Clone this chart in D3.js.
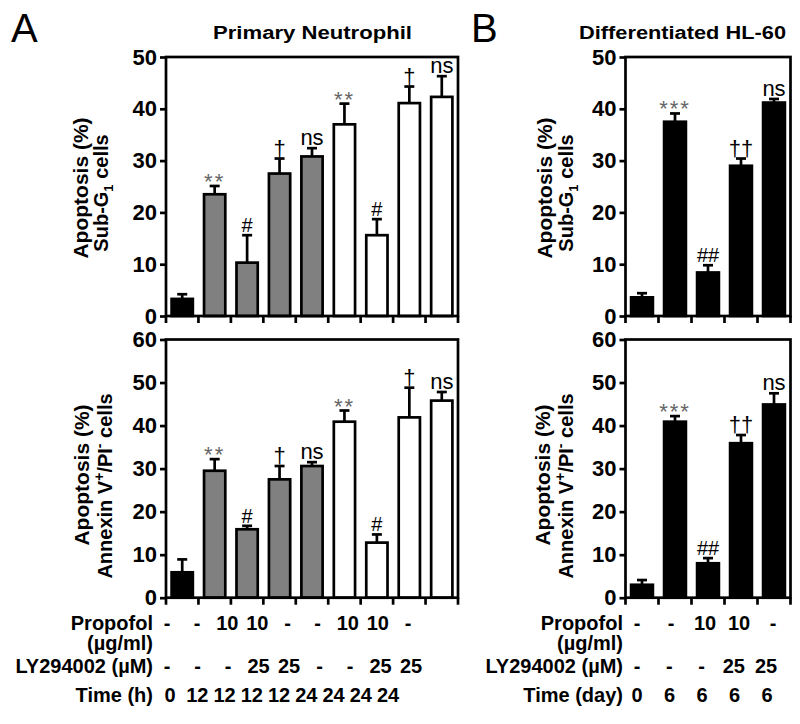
<!DOCTYPE html>
<html>
<head>
<meta charset="utf-8">
<script src="https://cdn.jsdelivr.net/npm/d3@7"></script>
<style>
  html, body { margin: 0; padding: 0; background: #fff; }
  svg { display: block; }
  text { font-family: "Liberation Sans", Arial, sans-serif; }
</style>
</head>
<body>
<svg id="chart" width="800" height="724"></svg>
<script>
// ---------------- DATA ----------------
// Panel A: Primary Neutrophil (9 conditions)
const groupA = ["ctrl", "h12", "h12", "h12", "h12", "h24", "h24", "h24", "h24"];
const subG1A = [3.3, 23.5, 10.3, 27.5, 30.8, 37.0, 15.6, 41.1, 42.3];
const subG1ErrA = [0.9, 1.6, 5.3, 2.9, 1.6, 4.0, 3.1, 3.2, 4.0];
const annexA = [5.9, 29.5, 15.9, 27.5, 30.6, 40.9, 12.8, 41.9, 45.8];
const annexErrA = [3.0, 2.7, 0.8, 3.1, 0.9, 2.6, 1.9, 6.9, 2.0];
const sigA = ["", "**", "#", "†", "ns", "**", "#", "†", "ns"];
const propofolA = ["-", "-", "10", "10", "-", "-", "10", "10", "-"];
const lyA = ["-", "-", "-", "25", "25", "-", "-", "25", "25"];
const timeA = ["0", "12", "12", "12", "12", "24", "24", "24", "24"];

// Panel B: Differentiated HL-60 (5 conditions)
const groupB = ["ctrl", "ctrl", "ctrl", "ctrl", "ctrl"];
const subG1B = [3.6, 37.5, 8.4, 29.0, 41.2];
const subG1ErrB = [0.8, 1.6, 1.4, 1.4, 0.7];
const annexB = [3.0, 40.9, 8.0, 35.9, 44.9];
const annexErrB = [1.1, 1.3, 1.2, 1.9, 2.6];
const sigB = ["", "***", "##", "††", "ns"];
const propofolB = ["-", "-", "10", "10", "-"];
const lyB = ["-", "-", "-", "25", "25"];
const timeB = ["0", "6", "6", "6", "6"];

const ticksTop = [0, 10, 20, 30, 40, 50];
const ticksBottom = [0, 10, 20, 30, 40, 50, 60];

const fillColor = { ctrl: "#000000", h12: "#808080", h24: "#ffffff" };

// ---------------- DRAW ----------------
const svg = d3.select("#chart");
const FONT = '"Liberation Sans", Arial, sans-serif';
const SW = 2.7;

function drawPanel(opt) {
  const n = opt.values.length;
  const x = d3.scaleBand().domain(d3.range(n)).range([opt.x0, opt.x1]).padding(0);
  const y = d3.scaleLinear().domain([0, opt.max]).range([opt.yBottom, opt.yTop]);
  const g = svg.append("g");
  const inset = opt.inset;

  // bars
  g.selectAll("rect.bar").data(opt.values).join("rect")
    .attr("class", "bar")
    .attr("x", (d, i) => x(i) + inset)
    .attr("width", x.bandwidth() - 2 * inset)
    .attr("y", d => y(d))
    .attr("height", d => y(0) - y(d))
    .attr("fill", (d, i) => fillColor[opt.groups[i]])
    .attr("stroke", "#000").attr("stroke-width", SW);

  // error bars (upper only)
  const cx = i => x(i) + x.bandwidth() / 2;
  g.selectAll("line.err").data(opt.values).join("line")
    .attr("x1", (d, i) => cx(i)).attr("x2", (d, i) => cx(i))
    .attr("y1", d => y(d)).attr("y2", (d, i) => y(d + opt.errs[i]))
    .attr("stroke", "#000").attr("stroke-width", SW);
  g.selectAll("line.cap").data(opt.values).join("line")
    .attr("x1", (d, i) => cx(i) - 5).attr("x2", (d, i) => cx(i) + 5)
    .attr("y1", (d, i) => y(d + opt.errs[i])).attr("y2", (d, i) => y(d + opt.errs[i]))
    .attr("stroke", "#000").attr("stroke-width", SW);

  // significance marks
  g.selectAll("text.sig").data(opt.sigs).join("text")
    .attr("x", (d, i) => cx(i))
    .attr("y", (d, i) => y(opt.values[i] + opt.errs[i]) + (d.startsWith("*") ? 3 : -3))
    .attr("text-anchor", "middle")
    .attr("font-family", FONT)
    .attr("font-size", d => d.startsWith("*") ? 22 : (d === "ns" ? 22 : (d.startsWith("#") ? 20 : 22)))
    .attr("letter-spacing", d => d.startsWith("*") ? 2 : 0)
    .attr("fill", d => d.startsWith("*") ? "#666" : "#000")
    .text(d => d);

  // frame
  g.append("rect")
    .attr("x", opt.x0).attr("y", opt.yTop)
    .attr("width", opt.x1 - opt.x0).attr("height", opt.yBottom - opt.yTop)
    .attr("fill", "none").attr("stroke", "#000").attr("stroke-width", SW);

  // y axis
  const ax = g.append("g").attr("transform", `translate(${opt.x0},0)`)
    .call(d3.axisLeft(y).tickValues(opt.ticks).tickSize(6).tickPadding(3).tickFormat(d3.format("d")));
  ax.select(".domain").remove();
  ax.selectAll(".tick line").attr("stroke", "#000").attr("stroke-width", SW);
  ax.selectAll(".tick text")
    .attr("font-family", FONT).attr("font-size", 22).attr("font-weight", "bold").attr("fill", "#000");

  // x ticks at band boundaries
  const bounds = d3.range(n + 1).map(i => opt.x0 + i * x.step());
  g.selectAll("line.xt").data(bounds).join("line")
    .attr("x1", d => d).attr("x2", d => d)
    .attr("y1", opt.yBottom).attr("y2", opt.yBottom + 7)
    .attr("stroke", "#000").attr("stroke-width", SW);

  // y label
  const lab = g.append("g");
  lab.append("text")
    .attr("transform", `translate(${opt.lab1x},${opt.lab1y}) rotate(-90)`)
    .attr("text-anchor", "middle").attr("font-family", FONT)
    .attr("font-size", 21).attr("font-weight", "bold")
    .text("Apoptosis (%)");
  const t2 = lab.append("text")
    .attr("transform", `translate(${opt.lab2x},${opt.lab2y}) rotate(-90)`)
    .attr("text-anchor", "middle").attr("font-family", FONT)
    .attr("font-size", 20).attr("font-weight", "bold");
  opt.label2.forEach(p => {
    const ts = t2.append("tspan").text(p.t);
    if (p.sub) ts.attr("font-size", 13).attr("dy", 5);
    if (p.sup) ts.attr("font-size", 14).attr("dy", -8);
    if (p.reset) ts.attr("dy", p.reset);
  });
  return x;
}

const subLabel = [{ t: "Sub-G" }, { t: "1", sub: true }, { t: " cells", reset: -5 }];
const annLabel = [{ t: "Annexin V" }, { t: "+", sup: true }, { t: "/PI", reset: 8 }, { t: "-", sup: true }, { t: " cells", reset: 8 }];

// Panel A
drawPanel({ x0: 166, x1: 458, yTop: 57, yBottom: 316, max: 50, ticks: ticksTop, inset: 5.6,
  values: subG1A, errs: subG1ErrA, groups: groupA, sigs: sigA,
  lab1x: 88, lab1y: 188, lab2x: 108, lab2y: 193, label2: subLabel });
drawPanel({ x0: 166, x1: 458, yTop: 339.5, yBottom: 597.7, max: 60, ticks: ticksBottom, inset: 5.6,
  values: annexA, errs: annexErrA, groups: groupA, sigs: sigA,
  lab1x: 89, lab1y: 475, lab2x: 112, lab2y: 486, label2: annLabel });

// Panel B
drawPanel({ x0: 625.5, x1: 790.5, yTop: 57, yBottom: 316, max: 50, ticks: ticksTop, inset: 5.6,
  values: subG1B, errs: subG1ErrB, groups: groupB, sigs: sigB,
  lab1x: 552, lab1y: 188, lab2x: 573, lab2y: 193, label2: subLabel });
drawPanel({ x0: 625.5, x1: 790.5, yTop: 339.5, yBottom: 597.7, max: 60, ticks: ticksBottom, inset: 5.6,
  values: annexB, errs: annexErrB, groups: groupB, sigs: sigB,
  lab1x: 550, lab1y: 475, lab2x: 573, lab2y: 486, label2: annLabel });

// Panel letters and titles
svg.append("text").attr("x", 11).attr("y", 42).attr("font-family", FONT).attr("font-size", 40).text("A");
svg.append("text").attr("x", 471).attr("y", 42).attr("font-family", FONT).attr("font-size", 40).text("B");
svg.append("text").attr("x", 213).attr("y", 39).attr("font-family", FONT).attr("font-size", 18)
  .attr("font-weight", "bold").attr("textLength", 199).attr("lengthAdjust", "spacingAndGlyphs")
  .text("Primary Neutrophil");
svg.append("text").attr("x", 579).attr("y", 39).attr("font-family", FONT).attr("font-size", 18)
  .attr("font-weight", "bold").attr("textLength", 207).attr("lengthAdjust", "spacingAndGlyphs")
  .text("Differentiated HL-60");

// Treatment table
function tableRows(rows, labelX) {
  const tg = svg.append("g").attr("font-family", FONT).attr("font-size", 20).attr("font-weight", "bold");
  rows.forEach(r => {
    tg.append("text").attr("x", labelX).attr("y", r.y).attr("text-anchor", "end").text(r.label);
    if (!r.vals) return;
    const px = d3.scalePoint().domain(d3.range(r.vals.length)).range(r.range);
    tg.selectAll(null).data(r.vals).join("text")
      .attr("x", (d, i) => px(i)).attr("y", r.y).attr("text-anchor", "middle").text(d => d);
  });
}
tableRows([
  { label: "Propofol", y: 630, vals: propofolA, range: [167, 408] },
  { label: "(\u00b5g/ml)", y: 650 },
  { label: "LY294002 (\u00b5M)", y: 673, vals: lyA, range: [167, 411] },
  { label: "Time (h)", y: 702, vals: timeA, range: [170, 388] }
], 153);
tableRows([
  { label: "Propofol", y: 630, vals: propofolB, range: [637, 773] },
  { label: "(\u00b5g/ml)", y: 650 },
  { label: "LY294002 (\u00b5M)", y: 673, vals: lyB, range: [637, 766] },
  { label: "Time (day)", y: 702, vals: timeB, range: [637, 767] }
], 623);
</script>
</body>
</html>
